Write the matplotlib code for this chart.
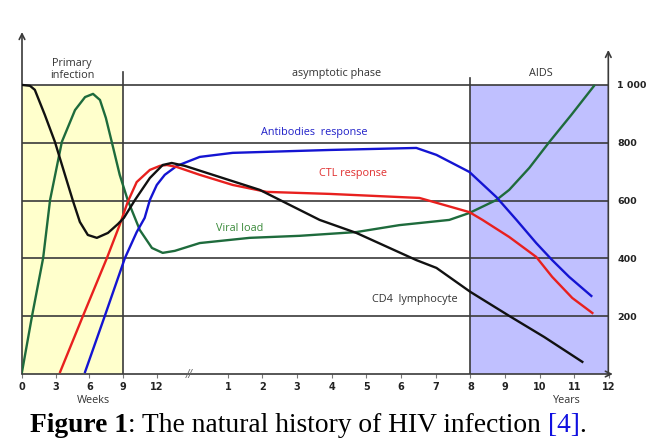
import numpy as np
import matplotlib.pyplot as plt
from matplotlib.patches import Rectangle

# x axis position: 1 unit = one year step, weeks squeezed into the first part
WEEK = 0.324
YEAR0 = 4.94

week_ticks = [0, 3, 6, 9, 12]
year_ticks = [1, 2, 3, 4, 5, 6, 7, 8, 9, 10, 11, 12]
level_ticks = [200, 400, 600, 800, 1000]
level_labels = ["200", "400", "600", "800", "1 000"]

# curves (x in axis position units, y in cells/level)
cd4_x = [0, 0.23, 0.37, 0.66, 0.95, 1.24, 1.47, 1.67, 1.90, 2.16, 2.48, 2.77, 2.94,
         3.26, 3.69, 4.06, 4.32, 4.70, 6.86, 8.59, 9.65, 11.38, 11.96, 12.94, 14.06,
         15.07, 16.17]
cd4_y = [1000, 997, 983, 896, 803, 689, 599, 526, 481, 471, 488, 519, 540,
         602, 678, 723, 730, 720, 637, 533, 488, 394, 367, 284, 201, 128, 42]

viral_x = [0, 0.29, 0.61, 0.81, 1.15, 1.53, 1.82, 2.05, 2.25, 2.42, 2.59, 2.82, 3.05,
           3.40, 3.75, 4.06, 4.41, 5.13, 6.57, 8.01, 9.65, 10.89, 12.33, 12.91, 13.69,
           14.06, 14.64, 15.22, 15.85, 16.51]
viral_y = [7, 201, 401, 602, 803, 913, 958, 969, 948, 886, 803, 689, 602,
           498, 436, 419, 426, 453, 471, 478, 491, 515, 533, 557, 602,
           637, 713, 803, 896, 997]

ctl_x = [1.10, 1.76, 2.45, 2.82, 3.05, 3.31, 3.69, 3.98, 4.18, 4.47, 5.13, 6.08, 7.06,
         8.88, 11.47, 12.91, 13.29, 14.06, 14.84, 15.30, 15.88, 16.46]
ctl_y = [7, 201, 401, 516, 595, 664, 706, 720, 723, 716, 689, 654, 630,
         623, 609, 560, 533, 474, 405, 336, 263, 211]

ab_x = [1.82, 2.39, 2.97, 3.31, 3.54, 3.69, 3.89, 4.12, 4.47, 5.13, 6.08, 8.88, 11.38,
        11.96, 12.91, 13.69, 14.27, 14.84, 15.30, 15.79, 16.43]
ab_y = [7, 201, 401, 491, 540, 602, 654, 689, 720, 751, 765, 775, 782,
        758, 699, 612, 533, 453, 394, 336, 270]

XMAX = 16.92
YTOP = 1190

fig = plt.figure(figsize=(6.48, 4.38), dpi=100)
ax = fig.add_axes([22 / 648, 64 / 438, (609 - 22) / 648, (374 - 30) / 438])
ax.set_xlim(0, XMAX)
ax.set_ylim(0, YTOP)
for s in ax.spines.values():
    s.set_visible(False)

grid_c = "#3a3a3a"
ax.add_patch(Rectangle((0, 0), 9 * WEEK, 1000, facecolor="#FFFFCC", edgecolor="none", zorder=0))
ax.add_patch(Rectangle((YEAR0 + 8, 0), XMAX - YEAR0 - 8, 1000, facecolor="#C0C0FF",
                       edgecolor="none", zorder=0))
for lv in level_ticks:
    ax.plot([0, XMAX], [lv, lv], color=grid_c, lw=1.2, zorder=1)
ax.plot([9 * WEEK] * 2, [0, 1045], color=grid_c, lw=1.2, zorder=1)
ax.plot([YEAR0 + 8] * 2, [0, 1024], color=grid_c, lw=1.2, zorder=1)

arrow = dict(arrowstyle="->", color=grid_c, lw=1.2, shrinkA=0, shrinkB=0)
ax.annotate("", xy=(0, 1183), xytext=(0, 0), arrowprops=arrow, annotation_clip=False)
ax.annotate("", xy=(XMAX, 1121), xytext=(XMAX, 0), arrowprops=arrow, annotation_clip=False)
ax.annotate("", xy=(17.05, 0), xytext=(0, 0), arrowprops=arrow, annotation_clip=False)

ax.plot(viral_x, viral_y, color="#1E6B3C", lw=1.7, zorder=3)
ax.plot(ab_x, ab_y, color="#1414D2", lw=1.7, zorder=3)
ax.plot(ctl_x, ctl_y, color="#E8201E", lw=1.7, zorder=3)
ax.plot(cd4_x, cd4_y, color="#111111", lw=1.7, zorder=4)

# ticks
xt = [w * WEEK for w in week_ticks] + [YEAR0 + y for y in year_ticks]
xl = [str(w) for w in week_ticks] + [str(y) for y in year_ticks]
ax.set_xticks(xt, xl)
ax.tick_params(axis="x", length=3, width=0.8, color="#777777", pad=3,
               labelsize=7, labelcolor="#222222")
for t in ax.get_xticklabels():
    t.set_fontweight("bold")
ax.yaxis.tick_right()
ax.set_yticks(level_ticks, level_labels)
ax.tick_params(axis="y", length=0, pad=6, labelsize=6.8, labelcolor="#222222")
for t in ax.get_yticklabels():
    t.set_fontweight("bold")
    t.set_horizontalalignment("left")

ax.text(4.84, 0, "//", ha="center", va="center", fontsize=7.5, color="#666666", style="italic")

fnt = "Open Sans"
fs = 7.8
ax.text(1.44, 1052, "Primary\ninfection", ha="center", va="center", fontsize=fs,
        family=fnt, color="#333333", linespacing=1.15)
ax.text(9.08, 1038, "asymptotic phase", ha="center", va="center", fontsize=fs,
        family=fnt, color="#333333")
ax.text(14.96, 1038, "AIDS", ha="center", va="center", fontsize=fs, family=fnt, color="#333333")
ax.text(8.44, 834, "Antibodies  response", ha="center", va="center", fontsize=fs,
        family=fnt, color="#2020C8")
ax.text(9.54, 695, "CTL response", ha="center", va="center", fontsize=fs,
        family=fnt, color="#E03030")
ax.text(6.28, 505, "Viral load", ha="center", va="center", fontsize=fs,
        family=fnt, color="#3A8A3A")
ax.text(11.33, 256, "CD4  lymphocyte", ha="center", va="center", fontsize=fs,
        family=fnt, color="#333333")
ax.text(2.05, -93, "Weeks", ha="center", va="center", fontsize=fs, family=fnt, color="#333333")
ax.text(15.73, -93, "Years", ha="center", va="center", fontsize=fs, family=fnt, color="#333333")

# caption, built piece by piece
parts = [("Figure 1", "bold", "black"), (": The natural history of HIV infection ", "normal", "black"),
         ("[4]", "normal", "#1010E0"), (".", "normal", "black")]
fig.canvas.draw()
r = fig.canvas.get_renderer()
x = 30 / 648
for s, w, c in parts:
    t = fig.text(x, 6 / 438, s, fontweight=w, color=c, fontsize=19.8,
                 family="Liberation Serif", va="baseline", ha="left")
    x += t.get_window_extent(r).width / fig.bbox.width

fig.savefig("out.png", dpi=100)
